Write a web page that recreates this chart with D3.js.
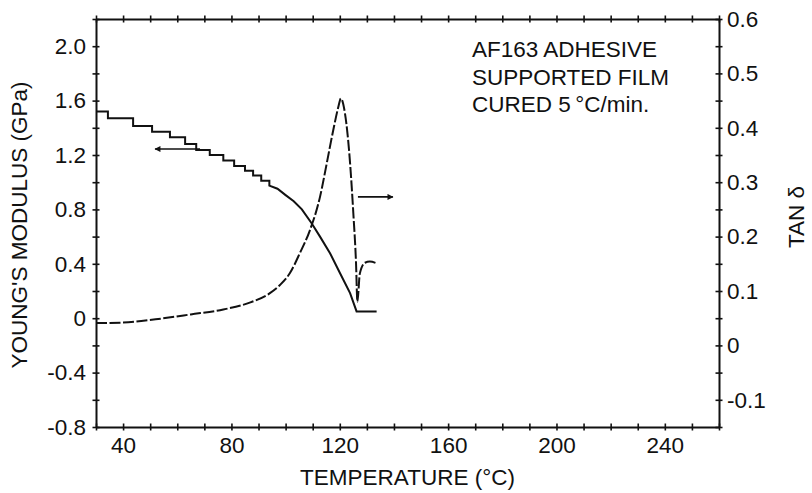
<!DOCTYPE html>
<html>
<head>
<meta charset="utf-8">
<script src="https://cdn.jsdelivr.net/npm/d3@7"></script>
<style>
  body { margin: 0; background: #fff; }
  svg text { font-family: "Liberation Sans", Arial, Helvetica, sans-serif; fill: #111; }
  .axis path, .axis line { stroke: #111; }
</style>
</head>
<body>
<div id="chart"></div>
<script>
//=========Data=========//
// Young's modulus (GPa) vs temperature (C), stepped trace
var modTemp = [30, 34.4, 34.4, 43.7, 43.7, 50.7, 50.7, 57.3, 57.3, 62.9, 62.9, 67, 67, 72, 72, 77, 77, 81, 81,
  85, 85, 88, 88, 91, 91, 94, 94, 97, 100, 103, 106, 109.6, 112.7, 116.4, 120.1, 123.8, 126.2, 133.6];
var modValue = [1.52, 1.52, 1.47, 1.47, 1.413, 1.413, 1.371, 1.371, 1.33, 1.33, 1.28, 1.28, 1.236, 1.236, 1.2, 1.2,
  1.16, 1.16, 1.12, 1.12, 1.085, 1.085, 1.05, 1.05, 1.01, 1.01, 0.975, 0.952, 0.905, 0.86, 0.8, 0.698, 0.6,
  0.478, 0.331, 0.184, 0.05, 0.05];

// tan delta vs temperature (C), dashed trace
var tanTemp = [30, 40, 52, 65, 77, 87, 94.2, 97.9, 101.6, 105.3, 109, 112.7, 115.2, 117.6, 119.5, 120.4, 121.9,
  123.8, 125, 126, 126.5, 127.4, 129.3, 131.1, 133.6];
var tanValue = [0.041, 0.042, 0.048, 0.057, 0.066, 0.079, 0.096, 0.111, 0.133, 0.17, 0.212, 0.273, 0.335, 0.396,
  0.439, 0.454, 0.427, 0.335, 0.243, 0.151, 0.08, 0.132, 0.152, 0.154, 0.151];

// tick labels
var xTicks = [40, 80, 120, 160, 200, 240];
var yLeftTicks = [-0.8, -0.4, 0, 0.4, 0.8, 1.2, 1.6, 2.0];
var yRightTicks = [-0.1, 0, 0.1, 0.2, 0.3, 0.4, 0.5, 0.6];

var noteLines = ["AF163 ADHESIVE", "SUPPORTED FILM", "CURED 5\u2009\u00B0C/min."];

//=========Define SVG Area and Margins=========//
var svgWidth = 812;
var svgHeight = 493;

var margin = { top: 19, right: 93, bottom: 66, left: 96 };

var width = svgWidth - margin.left - margin.right;
var height = svgHeight - margin.top - margin.bottom;

var svg = d3
  .select("#chart")
  .append("svg")
  .attr("width", svgWidth)
  .attr("height", svgHeight);

var chartGroup = svg
  .append("g")
  .attr("transform", `translate(${margin.left}, ${margin.top})`);

//=========Scales=========//
var xScale = d3.scaleLinear().domain([30, 260]).range([0, width]);
var yLeft = d3.scaleLinear().domain([-0.8, 2.2]).range([height, 0]);
var yRight = d3.scaleLinear().domain([-0.15, 0.6]).range([height, 0]);

// minor ticks
var xMinor = d3.range(30, 261, 10);
var yLeftMinor = d3.range(-4, 12).map((i) => +(i * 0.2).toFixed(1));
var yRightMinor = d3.range(-3, 13).map((i) => +(i * 0.05).toFixed(2));

function fmt(d) {
  return d === 0 ? "0" : d.toFixed(1);
}

var fontSize = 22.5;

//=========Axes=========//
// bottom
var bottomAxis = d3
  .axisBottom(xScale)
  .tickValues(xMinor)
  .tickSize(0)
  .tickPadding(10)
  .tickFormat((d) => (xTicks.indexOf(d) >= 0 ? d : ""));

var xAxis = chartGroup
  .append("g")
  .attr("class", "axis")
  .attr("transform", `translate(0, ${height})`)
  .call(bottomAxis);

// top
var topAxis = chartGroup
  .append("g")
  .attr("class", "axis")
  .call(d3.axisTop(xScale).tickValues(xMinor).tickSize(0).tickFormat(""));

// left
var leftAxis = chartGroup
  .append("g")
  .attr("class", "axis")
  .call(
    d3
      .axisLeft(yLeft)
      .tickValues(yLeftMinor)
      .tickSize(0)
      .tickPadding(10)
      .tickFormat((d) => (yLeftTicks.indexOf(d) >= 0 ? fmt(d) : ""))
  );

// right
var rightAxis = chartGroup
  .append("g")
  .attr("class", "axis")
  .attr("transform", `translate(${width}, 0)`)
  .call(
    d3
      .axisRight(yRight)
      .tickValues(yRightMinor)
      .tickSize(0)
      .tickPadding(8)
      .tickFormat((d) => (yRightTicks.indexOf(d) >= 0 ? fmt(d) : ""))
  );

// cross style ticks + styling
[xAxis, topAxis].forEach(function (ax) {
  ax.selectAll(".tick line").attr("y1", -3.5).attr("y2", 3.5).attr("stroke-width", 1.6);
});
[leftAxis, rightAxis].forEach(function (ax) {
  ax.selectAll(".tick line").attr("x1", -3.5).attr("x2", 3.5).attr("stroke-width", 1.6);
});
chartGroup.selectAll(".axis .domain").attr("stroke-width", 2);
chartGroup
  .selectAll(".axis text")
  .style("font-size", fontSize + "px")
  .style("font-family", '"Liberation Sans", Arial, sans-serif')
  .attr("fill", "#111");

//=========Curves=========//
var modData = modTemp.map((t, i) => ({ t: t, v: modValue[i] }));
var tanData = tanTemp.map((t, i) => ({ t: t, v: tanValue[i] }));

var modLine = d3
  .line()
  .x((d) => xScale(d.t))
  .y((d) => yLeft(d.v));

var tanLine = d3
  .line()
  .curve(d3.curveMonotoneX)
  .x((d) => xScale(d.t))
  .y((d) => yRight(d.v));

chartGroup
  .append("path")
  .datum(modData)
  .attr("d", modLine)
  .attr("fill", "none")
  .attr("stroke", "#111")
  .attr("stroke-width", 2);

chartGroup
  .append("path")
  .datum(tanData)
  .attr("d", tanLine)
  .attr("fill", "none")
  .attr("stroke", "#111")
  .attr("stroke-width", 2)
  .attr("stroke-dasharray", "11,2.5");

//=========Arrows=========//
svg
  .append("defs")
  .append("marker")
  .attr("id", "head")
  .attr("viewBox", "0 0 10 10")
  .attr("refX", 9)
  .attr("refY", 5)
  .attr("markerWidth", 10)
  .attr("markerHeight", 6)
  .attr("markerUnits", "userSpaceOnUse")
  .attr("orient", "auto")
  .append("path")
  .attr("d", "M0,0 L10,5 L0,10 Z")
  .attr("fill", "#111");

// left arrow -> modulus axis
chartGroup
  .append("line")
  .attr("x1", xScale(68.4))
  .attr("x2", xScale(51.8))
  .attr("y1", yLeft(1.244))
  .attr("y2", yLeft(1.244))
  .attr("stroke", "#111")
  .attr("stroke-width", 1.6)
  .attr("marker-end", "url(#head)");

// right arrow -> tan delta axis
chartGroup
  .append("line")
  .attr("x1", xScale(126.7))
  .attr("x2", xScale(139.6))
  .attr("y1", yRight(0.273))
  .attr("y2", yRight(0.273))
  .attr("stroke", "#111")
  .attr("stroke-width", 1.6)
  .attr("marker-end", "url(#head)");

//=========Labels=========//
var note = chartGroup
  .append("text")
  .attr("x", 376)
  .attr("y", 38)
  .style("font-size", fontSize + "px");

note
  .selectAll("tspan")
  .data(noteLines)
  .enter()
  .append("tspan")
  .attr("x", 376)
  .attr("dy", (d, i) => (i === 0 ? 0 : 27.5))
  .text((d) => d);

// x axis label
chartGroup
  .append("text")
  .attr("x", width / 2)
  .attr("y", height + 58)
  .attr("text-anchor", "middle")
  .style("font-size", fontSize + "px")
  .text("TEMPERATURE (\u00B0C)");

// left y axis label
chartGroup
  .append("text")
  .attr("transform", "rotate(-90)")
  .attr("x", 0 - height / 2 - 2)
  .attr("y", 0 - margin.left + 27)
  .attr("text-anchor", "middle")
  .style("font-size", fontSize + "px")
  .text("YOUNG'S MODULUS (GPa)");

// right y axis label
chartGroup
  .append("text")
  .attr("transform", "rotate(-90)")
  .attr("x", 0 - height / 2 + 6)
  .attr("y", width + 85)
  .attr("text-anchor", "middle")
  .style("font-size", fontSize + "px")
  .text("TAN \u03B4");
</script>
</body>
</html>
